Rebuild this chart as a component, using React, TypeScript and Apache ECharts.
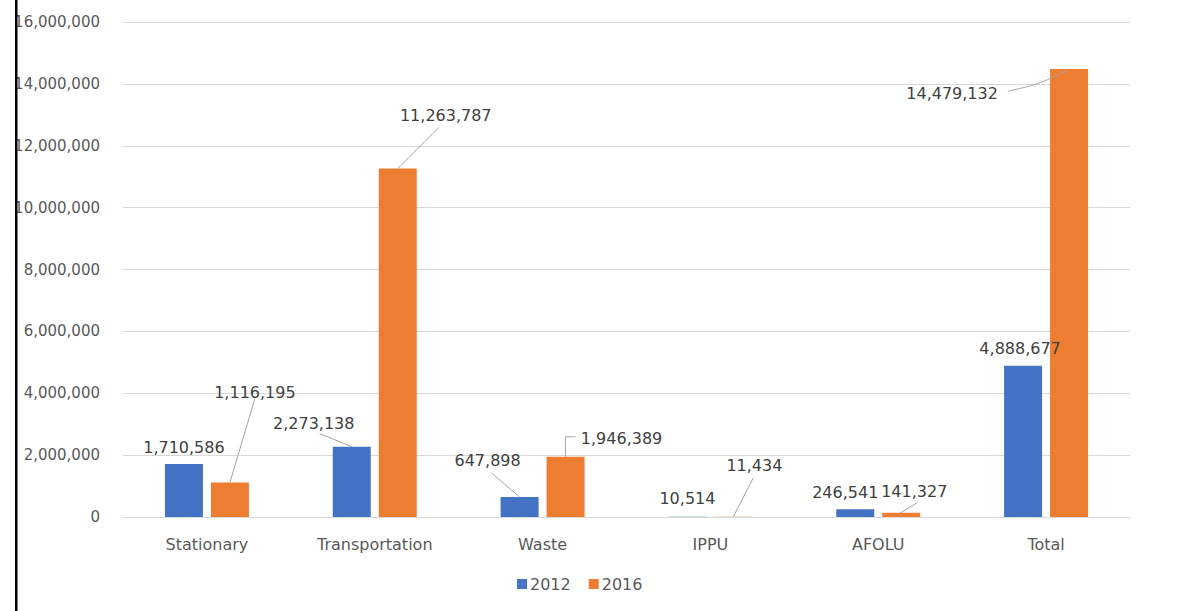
import React, { useEffect, useRef } from "react";
import * as echarts from "echarts";

const categories = ["Stationary", "Transportation", "Waste", "IPPU", "AFOLU", "Total"];
const values2012 = [1710586, 2273138, 647898, 10514, 246541, 4888677];
const values2016 = [1116195, 11263787, 1946389, 11434, 141327, 14479132];
const yTicks = { min: 0, max: 16000000, interval: 2000000 };

// label shifts (dx, dy) from the default "top" spot
const shift2012: [number, number][] = [
  [0, -4],
  [-38, -10],
  [-32, -23],
  [0, -5],
  [-10, -4],
  [-3, -4],
];
const shift2016: [number, number][] = [
  [25, -77],
  [48, -40],
  [56, -5],
  [21, -38],
  [13, -8],
  [-117, 37],
];

// leader lines: polyline offsets measured from the top centre of a bar
type Leader = { year: 0 | 1; cat: number; pts: [number, number][]; smooth?: number };
const leaders: Leader[] = [
  { year: 0, cat: 1, pts: [[0, 0], [-32, -13]] },
  { year: 0, cat: 2, pts: [[0, 0], [-28, -24]] },
  { year: 1, cat: 0, pts: [[0, 0], [25, -84]] },
  { year: 1, cat: 1, pts: [[0, 0], [41, -41]] },
  { year: 1, cat: 2, pts: [[0, 0], [0, -20], [10, -20]] },
  { year: 1, cat: 3, pts: [[0, 0], [20, -39]] },
  { year: 1, cat: 4, pts: [[-2, 1], [16, -10]] },
  { year: 1, cat: 5, pts: [[0, 0], [-30, 14], [-61, 22]], smooth: 0.4 },
];

const FONT = "DejaVu Sans";
const BAR_W = 38;
const BAR_GAP = 0.21;
const fmt = (v: number) => v.toLocaleString("en-US");

export default function App() {
  const ref = useRef<HTMLDivElement>(null);

  useEffect(() => {
    document.body.style.margin = "0";
    const chart = echarts.init(ref.current!, undefined, { renderer: "svg" });

    const makeSeries = (
      name: string,
      values: number[],
      color: string,
      shifts: [number, number][]
    ) => ({
      name,
      type: "bar",
      barWidth: BAR_W,
      barGap: `${BAR_GAP * 100}%`,
      itemStyle: { color },
      data: values,
      label: {
        show: true,
        position: "top",
        distance: 5,
        color: "#404040",
        fontFamily: FONT,
        fontSize: 16,
        formatter: (p: any) => fmt(p.value),
      },
      labelLayout: (p: any) => ({
        dx: shifts[p.dataIndex][0],
        dy: shifts[p.dataIndex][1],
      }),
    });

    const allValues = [values2012, values2016];
    const barShift = (BAR_W + BAR_W * BAR_GAP) / 2;

    chart.setOption({
      animation: false,
      backgroundColor: "#ffffff",
      textStyle: { fontFamily: FONT },
      grid: { left: 123, right: 55, top: 22, bottom: 94, containLabel: false },
      legend: {
        bottom: 14,
        left: 512,
        icon: "rect",
        itemWidth: 10,
        itemHeight: 10,
        itemGap: 18,
        textStyle: { color: "#595959", fontFamily: FONT, fontSize: 16, padding: [0, 0, 0, -2] },
        data: ["2012", "2016"],
      },
      xAxis: {
        type: "category",
        data: categories,
        axisTick: { show: false },
        axisLine: { lineStyle: { color: "#d9d9d9" } },
        axisLabel: { color: "#595959", fontFamily: FONT, fontSize: 16, margin: 19 },
      },
      yAxis: {
        type: "value",
        min: yTicks.min,
        max: yTicks.max,
        interval: yTicks.interval,
        axisLine: { show: false },
        axisTick: { show: false },
        splitLine: { lineStyle: { color: "#d9d9d9" } },
        axisLabel: {
          color: "#595959",
          fontFamily: FONT,
          fontSize: 15,
          margin: 23,
          formatter: (v: number) => fmt(v),
        },
      },
      graphic: [
        {
          type: "rect",
          z: 100,
          shape: { x: 15, y: 0, width: 2.5, height: 611 },
          style: { fill: "#000000" },
        },
      ],
      series: [
        makeSeries("2012", values2012, "#4472C4", shift2012),
        makeSeries("2016", values2016, "#ED7D31", shift2016),
        {
          name: "leaders",
          type: "custom",
          silent: true,
          z: 5,
          data: leaders.map((l) => [l.cat, allValues[l.year][l.cat], l.year]),
          renderItem: (params: any, api: any) => {
            const leader = leaders[params.dataIndex];
            const top = api.coord([api.value(0), api.value(1)]);
            const x = top[0] + (api.value(2) === 0 ? -barShift : barShift);
            const pts = leader.pts.map(([dx, dy]) => [x + dx, top[1] + dy]);
            return {
              type: "polyline",
              shape: { points: pts, smooth: leader.smooth || 0 },
              style: { stroke: "#a6a6a6", lineWidth: 1, fill: "none" },
            };
          },
        },
      ],
    });

    return () => chart.dispose();
  }, []);

  return (
    <div
      ref={ref}
      style={{ position: "absolute", left: 0, top: 0, width: 1185, height: 611 }}
    />
  );
}
